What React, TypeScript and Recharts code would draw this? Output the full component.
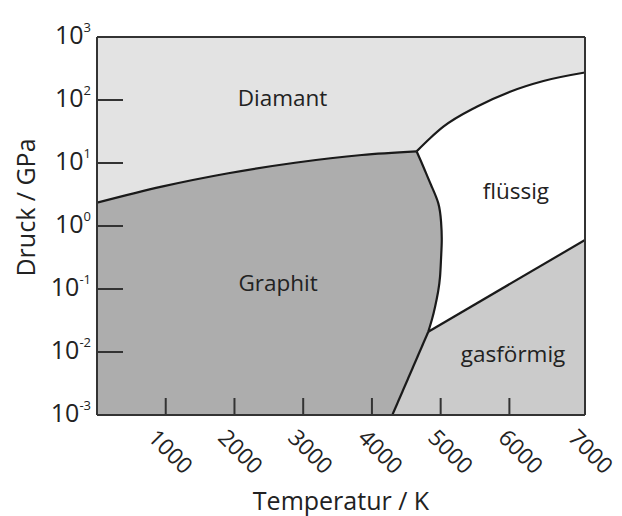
import React from "react";
import { ComposedChart, Area, Line, XAxis, YAxis, ReferenceDot } from "recharts";

// ---- data (T in K, p in GPa) ----
const xTicks = [1000, 2000, 3000, 4000, 5000, 6000, 7000];
const yTicks = [0.001, 0.01, 0.1, 1, 10, 100, 1000];
const yTickExponents = ["-3", "-2", "-1", "0", "1", "2", "3"];

const diamondTop = [
  { T: 0, p: 1000 },
  { T: 7100, p: 1000 },
];
const graphiteDiamond = [
  { T: 0, p: 2.34 },
  { T: 941, p: 4.21 },
  { T: 1911, p: 6.87 },
  { T: 2881, p: 10.1 },
  { T: 3852, p: 13.4 },
  { T: 4650, p: 15.3 },
];
const diamondLiquid = [
  { T: 4650, p: 15.3 },
  { T: 4846, p: 24.7 },
  { T: 5039, p: 37.7 },
  { T: 5525, p: 78.3 },
  { T: 6010, p: 135.6 },
  { T: 6495, p: 200.5 },
  { T: 7100, p: 273.6 },
];
const graphiteLiquid = [
  { T: 4650, p: 15.3 },
  { T: 4748, p: 8.73 },
  { T: 4860, p: 4.48 },
  { T: 4966, p: 2.29 },
  { T: 5006, p: 1.16 },
  { T: 5016, p: 0.6 },
  { T: 5006, p: 0.31 },
  { T: 4991, p: 0.157 },
  { T: 4962, p: 0.0896 },
  { T: 4919, p: 0.0524 },
  { T: 4875, p: 0.0334 },
  { T: 4820, p: 0.021 },
];
const graphiteGas = [
  { T: 4820, p: 0.021 },
  { T: 4297, p: 0.001 },
];
const liquidGas = [
  { T: 4820, p: 0.021 },
  { T: 7100, p: 0.6 },
];
const regionLabels = ["Diamant", "Graphit", "flüssig", "gasförmig"];
const regionT = [2699, 2634, 6094, 6054];
const regionP = [108, 0.125, 3.62, 0.00946];

// ---- derived polygons ----
const graphiteRegion = [...graphiteDiamond, ...graphiteLiquid.slice(1), graphiteGas[1]];
const gasRegion = [graphiteGas[1], graphiteGas[0], liquidGas[1]];
const liquidRegion = diamondLiquid;

const FONT = "Open Sans";
const TEXT = "#222";
const FRAME = "#333";
const EDGE = "#1a1a1a";

const XTick = (props: any) => {
  const { x, y, payload, index } = props;
  const v = payload.value;
  const i = typeof index === "number" ? index : xTicks.indexOf(v);
  const lx = x - 19 + 1.3 * i;
  const ly = y + 24;
  return (
    <g>
      {v !== xTicks[xTicks.length - 1] && (
        <line x1={x} y1={y} x2={x} y2={y - 17} stroke={FRAME} strokeWidth={2} />
      )}
      <text
        x={lx}
        y={ly}
        transform={`rotate(45 ${lx} ${ly})`}
        fontSize={22.5}
        fontFamily={FONT}
        fill={TEXT}
        textAnchor="start"
      >
        {v}
      </text>
    </g>
  );
};

const YTick = (props: any) => {
  const { x, y, payload } = props;
  const i = yTicks.indexOf(payload.value);
  const exp = yTickExponents[i];
  return (
    <g>
      <line x1={x} y1={y} x2={x + 26} y2={y} stroke={FRAME} strokeWidth={2} />
      <text x={x - 6} y={y + 6.5} textAnchor="end" fontFamily={FONT} fill={TEXT}>
        <tspan fontSize={25}>10</tspan>
        <tspan fontSize={13} dy={-12}>
          {exp}
        </tspan>
      </text>
    </g>
  );
};

const YTitle = (props: any) => {
  const vb = props.viewBox || { x: 88, y: 29, width: 1, height: 378 };
  const tx = vb.x + vb.width - 62;
  const ty = vb.y + vb.height / 2 - 18.5;
  return (
    <text
      x={tx}
      y={ty}
      transform={`rotate(-90 ${tx} ${ty})`}
      textAnchor="middle"
      fontSize={25}
      fontFamily={FONT}
      fill={TEXT}
    >
      Druck / GPa
    </text>
  );
};

const areaCommon = {
  dataKey: "p",
  fillOpacity: 1,
  stroke: "none",
  baseValue: 0.001,
  dot: false,
  activeDot: false,
  isAnimationActive: false,
} as any;

const lineCommon = {
  dataKey: "p",
  stroke: EDGE,
  strokeWidth: 2.2,
  strokeLinejoin: "round",
  dot: false,
  activeDot: false,
  isAnimationActive: false,
} as any;

export default function App() {
  const axisLine = { stroke: FRAME, strokeWidth: 2 };
  return (
    <div style={{ width: 614, height: 508 }}>
      <ComposedChart
        width={614}
        height={508}
        margin={{ top: 28, right: 36, bottom: 100, left: 88 }}
      >
        <Area {...areaCommon} data={diamondTop} type="linear" fill="#e3e3e3" />
        <Area {...areaCommon} data={liquidRegion} type="monotone" fill="#ffffff" />
        <Area {...areaCommon} data={graphiteDiamond} type="monotone" fill="#adadad" />
        <Area {...areaCommon} data={graphiteRegion} type="linear" fill="#adadad" />
        <Area {...areaCommon} data={gasRegion} type="linear" fill="#cbcbcb" />

        <Line {...lineCommon} data={graphiteDiamond} type="monotone" />
        <Line {...lineCommon} data={diamondLiquid} type="monotone" />
        <Line {...lineCommon} data={graphiteLiquid} type="natural" />
        <Line {...lineCommon} data={graphiteGas} type="linear" />
        <Line {...lineCommon} data={liquidGas} type="linear" />

        {regionLabels.map((name, i) => (
          <ReferenceDot
            key={name}
            x={regionT[i]}
            y={regionP[i]}
            r={0}
            fill="none"
            stroke="none"
            label={{ value: name, position: "center", fontSize: 22.5, fill: TEXT, fontFamily: FONT }}
          />
        ))}

        <XAxis
          type="number"
          dataKey="T"
          domain={[0, 7100]}
          ticks={xTicks}
          interval={0}
          allowDataOverflow
          height={1}
          tickSize={0}
          tickMargin={0}
          tickLine={false}
          tick={<XTick />}
          axisLine={axisLine}
          label={{ value: "Temperatur / K", position: "bottom", offset: 76, fontSize: 25, fill: TEXT, fontFamily: FONT }}
        />
        <XAxis
          xAxisId="top"
          orientation="top"
          type="number"
          domain={[0, 7100]}
          height={1}
          tick={false}
          tickLine={false}
          axisLine={axisLine}
        />
        <YAxis
          type="number"
          scale="log"
          domain={[0.001, 1000]}
          ticks={yTicks}
          interval={0}
          allowDataOverflow
          width={1}
          tickSize={0}
          tickMargin={0}
          tickLine={false}
          tick={<YTick />}
          axisLine={axisLine}
          label={(p: any) => <YTitle {...p} />}
        />
        <YAxis
          yAxisId="right"
          orientation="right"
          type="number"
          domain={[0, 1]}
          width={1}
          tick={false}
          tickLine={false}
          axisLine={axisLine}
        />
      </ComposedChart>
    </div>
  );
}
